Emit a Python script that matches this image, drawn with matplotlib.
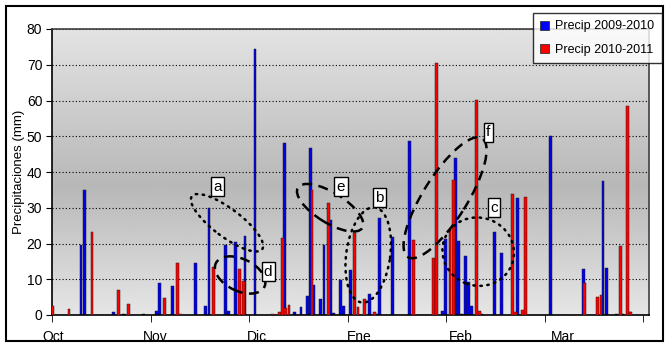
import numpy as np
import matplotlib
matplotlib.use('Agg')
import matplotlib.pyplot as plt
from matplotlib.patches import Ellipse, Rectangle, Patch
import matplotlib.transforms as mtransforms

plt.rcParams['font.family'] = ['Liberation Sans', 'DejaVu Sans']

# Datos: dia desde el 1 de octubre y precipitacion (mm)
dias_0910 = [9, 10, 19, 22, 28, 32, 33, 37, 44, 47, 48, 53, 54, 56, 59, 62,
             71, 74, 76, 78, 79, 80, 82, 83, 85, 86, 88, 89, 91, 97, 99, 100,
             104, 109, 119, 120, 123, 124, 125, 126, 127, 128, 131, 135, 137,
             142, 152, 162, 168, 169, 172, 174, 176]
prec_0910 = [19.7, 34.9, 0.8, 0.3, 0.3, 1.2, 8.9, 8.0, 14.5, 2.5, 30.0, 19.7,
             1.0, 20.5, 22.2, 74.5, 48.0, 0.8, 2.2, 5.3, 46.8, 8.4, 4.4, 19.7,
             26.7, 0.5, 9.8, 2.5, 12.6, 5.9, 0.2, 27.0, 21.7, 48.7, 1.0, 21.3,
             43.9, 20.7, 0.3, 16.6, 9.3, 2.5, 0.3, 23.1, 17.4, 32.7, 50.1,
             12.9, 37.6, 13.2, 0.2, 0.2, 0.8]

dias_1011 = [0, 5, 12, 20, 23, 34, 38, 39, 49, 57, 58, 67, 69, 70, 71, 72,
             79, 84, 92, 93, 95, 98, 110, 116, 117, 121, 122, 129, 130, 140,
             141, 143, 144, 162, 166, 167, 173, 175, 176]
prec_1011 = [2.5, 1.6, 23.1, 7.0, 3.1, 4.7, 14.5, 0.3, 13.3, 12.8, 9.5, 0.3,
             0.8, 21.6, 2.0, 2.8, 35.0, 31.2, 22.8, 2.1, 4.5, 0.9, 21.0, 16.0,
             70.5, 24.1, 37.8, 60.1, 1.2, 33.8, 0.8, 1.4, 33.1, 9.0, 5.0, 5.5,
             19.4, 58.4, 0.8]

meses = ['Oct', 'Nov', 'Dic', 'Ene', 'Feb', 'Mar']
pos_meses = [0.5 + 31 * i for i in range(len(meses))]

# elipses: etiqueta, centro (dia, mm), semiejes en px, angulo, estilo, caja etiqueta (dia, mm)
elipses = [
    ('a', 53.3, 25.8, 44, 14, -37, 'dot', 50.3, 35.9),
    ('d', 57.3, 11.2, 27, 16, -26, 'dash', 65.8, 12.1),
    ('e', 84.7, 30.0, 38, 15, -32, 'dash', 88.0, 35.9),
    ('b', 96.3, 16.8, 48, 22, 82, 'dot', 99.6, 32.8),
    ('c', 129.8, 17.7, 36, 34, -20, 'dot', 134.6, 30.0),
    ('f', 119.7, 32.8, 70, 22, 58, 'dash', 132.8, 51.1),
]

fig = plt.figure(figsize=(6.67, 3.43), dpi=100)
ax = fig.add_axes([52 / 667, 28 / 343, 597 / 667, 286 / 343])

# fondo degradado tipo Excel
t = np.linspace(0, 1, 256)
g = np.interp(t, [0, 0.55, 1], [0.89, 0.72, 0.90])
img = np.repeat(g[:, None], 2, axis=1)
ax.imshow(img, cmap='gray', vmin=0, vmax=1, extent=[0, 1, 0, 1],
          transform=ax.transAxes, aspect='auto', zorder=0, origin='upper')

ax.set_xlim(0, 181.8)
ax.set_ylim(0, 80)
ax.set_yticks(range(0, 81, 10))
ax.yaxis.grid(True, linestyle=(0, (1, 2)), color='black', linewidth=0.8)
ax.set_axisbelow(True)

ax.bar(np.array(dias_0910) - 0.2, prec_0910, width=0.85, color='#0000ee',
       edgecolor='#202020', linewidth=0.35, zorder=2, label='Precip 2009-2010')
ax.bar(np.array(dias_1011) + 0.2, prec_1011, width=0.85, color='#ff0000',
       edgecolor='#202020', linewidth=0.35, zorder=3, label='Precip 2010-2011')

ax.set_xticks(range(0, 181, 30), minor=True)
ax.set_xticks(pos_meses)
ax.set_xticklabels(meses, fontsize=10)
ax.tick_params(axis='x', which='major', length=0, pad=11)
ax.tick_params(axis='x', which='minor', length=5, direction='out')
ax.tick_params(axis='y', length=4, labelsize=10, pad=3)
ax.set_ylabel('Precipitaciones (mm)', fontsize=9.5, labelpad=1)

for s in ['left', 'bottom']:
    ax.spines[s].set_color('black')
    ax.spines[s].set_linewidth(1.2)
for s in ['top', 'right']:
    ax.spines[s].set_color('#404040')
    ax.spines[s].set_linewidth(1.2)

for (lab, cx, cy, a, b, ang, est, lx, ly) in elipses:
    tr = fig.dpi_scale_trans + mtransforms.ScaledTranslation(cx, cy, ax.transData)
    ls = (0, (0.6, 2.2)) if est == 'dot' else (0, (4, 2.6))
    e = Ellipse((0, 0), 2 * a / 100, 2 * b / 100, angle=ang, transform=tr,
                fill=False, edgecolor='black', linewidth=1.8, linestyle=ls,
                capstyle='round' if est == 'dot' else 'butt', zorder=5)
    ax.add_patch(e)
    ax.text(lx, ly, lab, fontsize=11, ha='center', va='center', zorder=6,
            bbox=dict(boxstyle='square,pad=0.15', facecolor='white',
                      edgecolor='black', linewidth=1))

handles = [Patch(facecolor='#0000ff', edgecolor='#333333', linewidth=0.6),
           Patch(facecolor='#ff0000', edgecolor='#333333', linewidth=0.6)]
leg = fig.legend(handles, ['Precip 2009-2010', 'Precip 2010-2011'],
                 loc='upper right', bbox_to_anchor=(662 / 667, 1 - 13 / 343),
                 fontsize=9, frameon=True, fancybox=False, borderpad=0.6,
                 handlelength=0.7, handleheight=0.7, handletextpad=0.5,
                 labelspacing=0.9, borderaxespad=0)
leg.get_frame().set_edgecolor('black')
leg.get_frame().set_linewidth(1)
leg.set_zorder(10)

fig.patches.append(Rectangle((6 / 667, 2 / 343), 657 / 667, 335 / 343,
                             transform=fig.transFigure, fill=False,
                             edgecolor='black', linewidth=1.5, zorder=0))

fig.savefig('out.png', dpi=100)
